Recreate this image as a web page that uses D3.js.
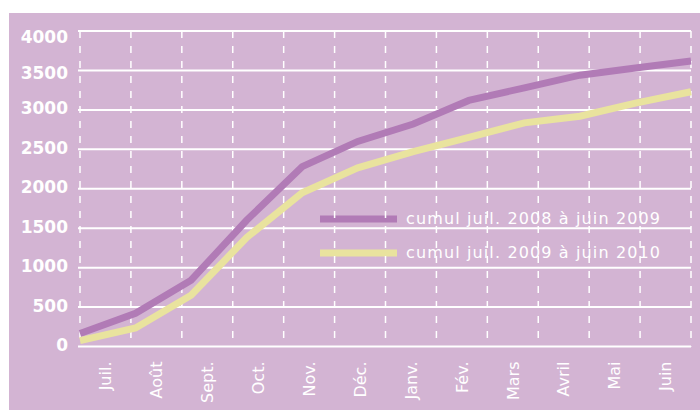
<!DOCTYPE html>
<html>
<head>
<meta charset="utf-8">
<script src="https://cdn.jsdelivr.net/npm/d3@7"></script>
<style>
  html, body { margin: 0; padding: 0; background: #ffffff; }
  svg { display: block; }
</style>
</head>
<body>
<div id="chart"></div>
<script>
// ---- Data ----
const months = ["Juil.", "Août", "Sept.", "Oct.", "Nov.", "Déc.", "Janv.", "Fév.", "Mars", "Avril", "Mai", "Juin"];
const cumul2008_2009 = [165, 420, 840, 1600, 2280, 2600, 2820, 3120, 3280, 3440, 3530, 3620];
const cumul2009_2010 = [75, 235, 650, 1380, 1950, 2265, 2470, 2650, 2835, 2920, 3085, 3230];
const seriesNames = ["cumul juil. 2008 à juin 2009", "cumul juil. 2009 à juin 2010"];
const yTicks = [0, 500, 1000, 1500, 2000, 2500, 3000, 3500, 4000];

(function () {
// ---- Layout ----
const W = 700, H = 410;
const pLeft = 80, pRight = 691, pTop = 31, pBottom = 346.5;
const bg = "#d3b4d3", purple = "#b17bb6", yellow = "#e9e39e";

const svg = d3.select("#chart").append("svg").attr("width", W).attr("height", H);

svg.append("rect").attr("x", 9).attr("y", 13).attr("width", W - 9).attr("height", H - 13).attr("fill", bg);

const y = d3.scaleLinear().domain([0, 4000]).range([pBottom, pTop]);
const xBand = d3.scaleBand().domain(months).range([pLeft, pRight]);
const xPoint = d3.scalePoint().domain(months).range([pLeft, pRight]);

// Legend (drawn under gridlines)
const legend = svg.append("g");
const series = [
  { name: seriesNames[0], values: cumul2008_2009, color: purple },
  { name: seriesNames[1], values: cumul2009_2010, color: yellow }
];
const legendY = [219, 253];
series.forEach((s, i) => {
  legend.append("line")
    .attr("x1", 320).attr("x2", 397)
    .attr("y1", legendY[i]).attr("y2", legendY[i])
    .attr("stroke", s.color).attr("stroke-width", 7);
  legend.append("text")
    .attr("x", 406).attr("y", legendY[i] + 5)
    .attr("fill", "#ffffff")
    .attr("font-family", "DejaVu Sans, sans-serif")
    .attr("font-size", 16)
    .attr("textLength", 254)
    .text(s.name);
});

// Horizontal gridlines
const grid = svg.append("g");
grid.selectAll("line.h").data(yTicks).enter().append("line")
  .attr("class", "h")
  .attr("x1", pLeft - 2).attr("x2", pRight)
  .attr("y1", d => y(d)).attr("y2", d => y(d))
  .attr("stroke", "#ffffff").attr("stroke-width", 2);

// Vertical dashed gridlines at band boundaries
const vx = months.map(m => xBand(m)).concat([pRight]);
grid.selectAll("line.v").data(vx).enter().append("line")
  .attr("class", "v")
  .attr("x1", d => d).attr("x2", d => d)
  .attr("y1", pTop).attr("y2", pBottom)
  .attr("stroke", "#ffffff").attr("stroke-width", 1.5)
  .attr("stroke-dasharray", "7,8");

// Y labels
svg.append("g").selectAll("text").data(yTicks).enter().append("text")
  .attr("x", 68)
  .attr("y", d => y(d) + (d === 4000 ? 6 : d === 3500 ? 2.5 : -1.5))
  .attr("dy", "0.36em")
  .attr("text-anchor", "end")
  .attr("fill", "#ffffff")
  .attr("font-family", "DejaVu Sans, sans-serif")
  .attr("font-weight", "bold")
  .attr("font-size", 17)
  .text(d => d);

// X labels (rotated, centered in bands)
svg.append("g").selectAll("text").data(months).enter().append("text")
  .attr("transform", d => `translate(${xBand(d) + xBand.bandwidth() / 2},${pBottom + 15}) rotate(-90)`)
  .attr("dy", "0.36em")
  .attr("text-anchor", "end")
  .attr("fill", "#ffffff")
  .attr("font-family", "DejaVu Sans, sans-serif")
  .attr("font-size", 16)
  .text(d => d);

// Lines
const line = d3.line().x((d, i) => xPoint(months[i])).y(d => y(d));
series.forEach(s => {
  svg.append("path")
    .datum(s.values)
    .attr("d", line)
    .attr("fill", "none")
    .attr("stroke", s.color)
    .attr("stroke-width", 7)
    .attr("stroke-linejoin", "miter");
});
})();
</script>
</body>
</html>
